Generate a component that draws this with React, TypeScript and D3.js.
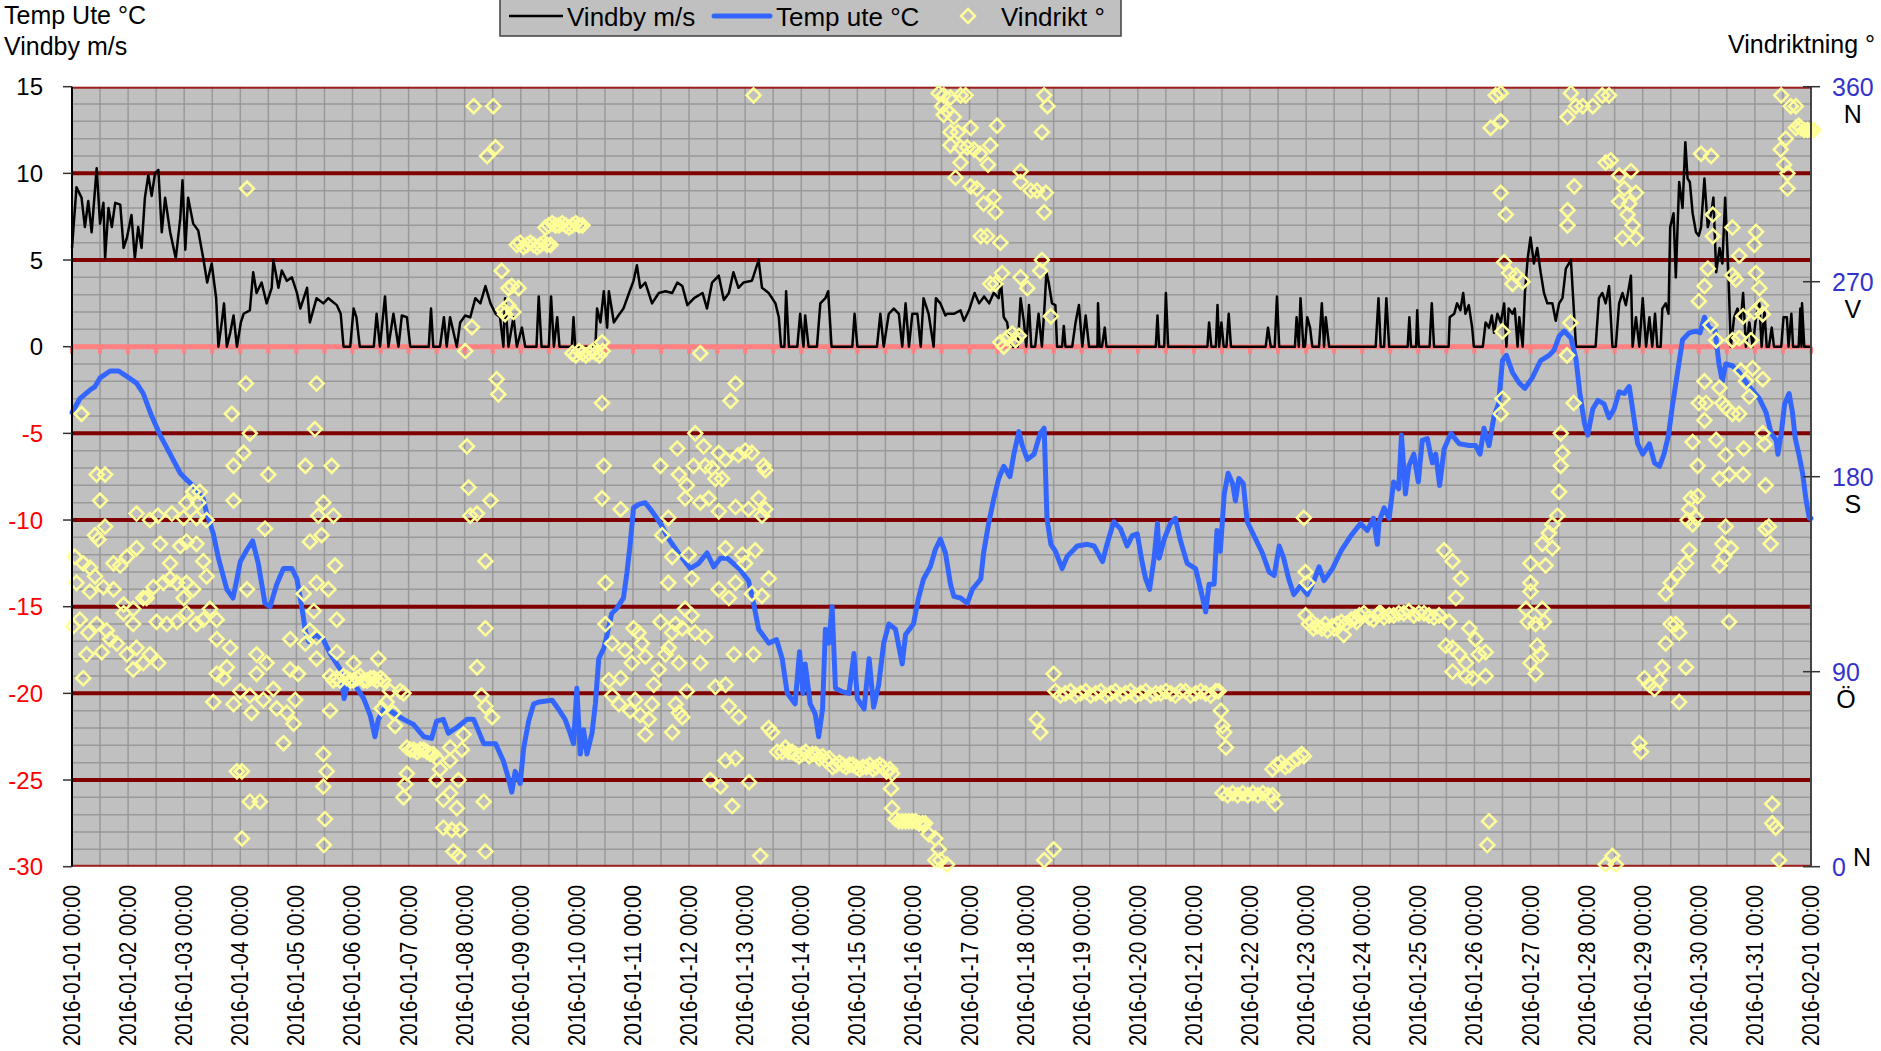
import * as d3 from "d3";
import React from "react";

// temp ute °C, [day since 2016-01-01, value]
const tempSeries: [number, number][] = [
  [0,-3.8],[0.14,-3.0],[0.32,-2.5],[0.41,-2.3],[0.5,-1.8],[0.68,-1.4],[0.83,-1.4],[0.97,-1.7],[1.15,-2.1],[1.27,-2.7],[1.42,-4.0],[1.57,-5.1],[1.75,-6.2],[1.93,-7.3],[2.05,-7.7],[2.22,-8.2],[2.34,-8.8],[2.4,-9.6],[2.52,-10.8],[2.61,-12.2],[2.76,-14.0],[2.87,-14.5],[2.94,-13.4],[3.0,-12.4],[3.12,-11.7],[3.22,-11.2],[3.32,-12.5],[3.44,-14.8],[3.53,-15.0],[3.65,-13.7],[3.77,-12.8],[3.92,-12.8],[4.01,-13.4],[4.1,-15.1],[4.16,-16.4],[4.22,-17.0],[4.33,-16.6],[4.48,-16.9],[4.6,-17.7],[4.78,-18.6],[4.85,-20.3],[4.93,-19.3],[5.08,-19.7],[5.2,-20.3],[5.32,-21.3],[5.4,-22.5],[5.46,-21.5],[5.58,-20.8],[5.76,-21.2],[5.91,-21.5],[6.09,-21.8],[6.27,-22.5],[6.41,-22.6],[6.5,-21.6],[6.62,-21.5],[6.71,-22.3],[6.89,-21.9],[7.04,-21.5],[7.16,-21.5],[7.34,-22.9],[7.55,-22.9],[7.69,-23.9],[7.78,-24.9],[7.84,-25.7],[7.9,-24.5],[7.99,-25.2],[8.05,-23.2],[8.14,-21.6],[8.23,-20.6],[8.32,-20.5],[8.56,-20.4],[8.67,-20.9],[8.79,-21.5],[8.88,-22.3],[8.94,-22.9],[9.0,-19.7],[9.06,-23.5],[9.12,-22.1],[9.18,-23.5],[9.27,-22.3],[9.33,-20.6],[9.39,-18.0],[9.48,-17.4],[9.54,-16.6],[9.62,-15.4],[9.71,-15.1],[9.83,-14.5],[9.89,-13.1],[9.95,-11.4],[10.01,-9.3],[10.1,-9.1],[10.22,-9.0],[10.34,-9.5],[10.49,-10.2],[10.64,-11.1],[10.81,-11.9],[11.02,-12.8],[11.17,-12.5],[11.32,-11.9],[11.44,-12.7],[11.56,-12.2],[11.68,-12.2],[11.89,-12.8],[12.06,-13.5],[12.15,-14.8],[12.24,-16.3],[12.42,-17.1],[12.56,-16.9],[12.66,-18.0],[12.75,-20.0],[12.89,-20.6],[12.97,-17.6],[13.03,-20.0],[13.07,-18.3],[13.16,-20.6],[13.25,-21.2],[13.31,-22.5],[13.38,-20.9],[13.43,-16.3],[13.49,-17.1],[13.55,-15.0],[13.61,-19.7],[13.73,-19.9],[13.85,-20.0],[13.94,-17.7],[14.0,-20.3],[14.12,-20.9],[14.21,-18.0],[14.29,-20.8],[14.38,-19.5],[14.47,-17.1],[14.56,-16.0],[14.68,-16.3],[14.8,-18.3],[14.86,-16.6],[15.0,-16.0],[15.09,-14.5],[15.18,-13.4],[15.3,-12.7],[15.39,-11.7],[15.48,-11.1],[15.57,-11.9],[15.66,-13.7],[15.72,-14.4],[15.84,-14.5],[15.96,-14.8],[16.05,-14.0],[16.2,-13.4],[16.25,-11.9],[16.34,-10.2],[16.43,-8.8],[16.52,-7.6],[16.61,-6.9],[16.72,-7.5],[16.79,-6.2],[16.88,-4.9],[16.94,-5.7],[17.03,-6.5],[17.15,-6.2],[17.26,-5.0],[17.33,-4.7],[17.38,-9.9],[17.45,-11.4],[17.53,-11.8],[17.65,-12.8],[17.74,-12.1],[17.92,-11.5],[18.1,-11.4],[18.22,-11.5],[18.37,-12.4],[18.45,-11.4],[18.57,-10.1],[18.69,-10.5],[18.81,-11.5],[18.9,-10.9],[18.99,-10.8],[19.08,-12.5],[19.14,-13.4],[19.21,-14.0],[19.29,-12.2],[19.35,-10.2],[19.38,-12.2],[19.47,-11.1],[19.58,-10.2],[19.67,-9.9],[19.76,-11.2],[19.88,-12.5],[20.03,-12.8],[20.12,-14.0],[20.21,-15.3],[20.27,-13.7],[20.36,-13.7],[20.41,-10.6],[20.47,-11.8],[20.54,-8.5],[20.61,-7.3],[20.69,-7.9],[20.74,-8.9],[20.8,-7.6],[20.88,-7.9],[20.95,-10.1],[21.1,-11.1],[21.22,-11.9],[21.34,-13.0],[21.43,-13.2],[21.52,-11.5],[21.6,-12.2],[21.69,-13.4],[21.78,-14.3],[21.9,-13.8],[22.02,-14.3],[22.14,-13.5],[22.23,-12.7],[22.32,-13.5],[22.47,-12.8],[22.62,-11.8],[22.8,-10.9],[22.97,-10.2],[23.09,-10.6],[23.2,-9.9],[23.27,-11.4],[23.3,-10.1],[23.39,-9.3],[23.48,-9.9],[23.56,-7.8],[23.65,-8.2],[23.7,-5.1],[23.77,-8.5],[23.83,-6.9],[23.92,-6.2],[24.0,-7.8],[24.07,-5.4],[24.16,-5.3],[24.25,-6.7],[24.31,-6.2],[24.38,-8.0],[24.46,-5.9],[24.58,-5.0],[24.73,-5.6],[24.91,-5.7],[25.02,-5.7],[25.1,-6.2],[25.17,-4.7],[25.26,-5.7],[25.35,-4.0],[25.43,-3.3],[25.5,-0.8],[25.57,-0.5],[25.68,-1.5],[25.8,-2.1],[25.9,-2.4],[26.03,-1.8],[26.18,-0.8],[26.33,-0.5],[26.42,-0.2],[26.51,0.6],[26.6,0.9],[26.72,0.5],[26.81,-0.7],[26.88,-2.7],[26.96,-4.4],[27.02,-5.1],[27.11,-3.6],[27.2,-3.1],[27.31,-3.3],[27.4,-4.1],[27.49,-3.6],[27.58,-2.6],[27.67,-2.7],[27.76,-2.3],[27.82,-3.6],[27.91,-5.6],[28.0,-6.2],[28.12,-5.6],[28.21,-6.7],[28.3,-6.9],[28.38,-6.2],[28.46,-5.1],[28.53,-3.4],[28.62,-1.5],[28.71,0.4],[28.83,0.8],[28.95,0.9],[29.02,0.8],[29.1,1.7],[29.18,1.1],[29.29,0.9],[29.36,-1.0],[29.42,-2.0],[29.48,-1.0],[29.6,-1.1],[29.72,-1.5],[29.9,-2.3],[30.08,-3.0],[30.2,-3.8],[30.29,-5.0],[30.38,-5.4],[30.41,-6.2],[30.47,-5.0],[30.53,-3.3],[30.61,-2.7],[30.67,-3.8],[30.72,-5.3],[30.79,-6.3],[30.85,-7.3],[30.91,-8.8],[30.97,-9.9],[31.0,-9.9]
];

// vindby m/s
const gustSeries: [number, number][] = [
  [0,5.7],[0.08,9.2],[0.17,8.6],[0.23,6.9],[0.29,8.4],[0.35,6.6],[0.44,10.3],[0.5,7.1],[0.56,8.3],[0.59,5.1],[0.65,8.0],[0.71,6.9],[0.77,8.3],[0.86,8.2],[0.92,5.7],[0.98,6.3],[1.06,7.6],[1.12,5.1],[1.18,6.9],[1.24,5.7],[1.3,8.6],[1.36,9.9],[1.42,8.7],[1.48,10.0],[1.54,10.2],[1.6,6.6],[1.66,8.6],[1.75,6.6],[1.85,5.1],[1.93,7.4],[1.97,9.6],[2.02,5.6],[2.07,8.6],[2.16,7.1],[2.25,6.7],[2.34,5.1],[2.41,3.7],[2.49,4.8],[2.57,2.8],[2.61,0],[2.67,1.4],[2.71,2.5],[2.76,0],[2.82,0.8],[2.88,1.8],[2.94,0],[3.01,1.4],[3.06,1.9],[3.17,2.1],[3.23,4.3],[3.29,3.1],[3.38,3.7],[3.47,2.5],[3.56,3.4],[3.59,5.0],[3.68,3.4],[3.74,4.4],[3.83,3.8],[3.92,4.0],[4.01,3.1],[4.07,2.2],[4.19,3.4],[4.24,1.4],[4.36,2.8],[4.48,2.5],[4.57,2.8],[4.72,2.4],[4.79,1.9],[4.84,0],[4.96,0],[5.02,2.2],[5.07,1.7],[5.13,0],[5.38,0],[5.43,1.9],[5.49,0],[5.58,2.9],[5.64,0],[5.73,1.9],[5.82,0],[5.88,1.8],[5.97,1.7],[6.03,0],[6.36,0],[6.4,2.2],[6.44,0],[6.56,0],[6.63,1.7],[6.68,0],[6.74,1.7],[6.86,0],[6.92,1.4],[7.01,1.8],[7.1,1.7],[7.19,2.8],[7.28,2.5],[7.37,3.5],[7.46,2.5],[7.55,1.9],[7.63,1.7],[7.69,0],[7.72,2.8],[7.78,0],[7.87,1.7],[7.93,0],[8.02,1.1],[8.08,0],[8.28,0],[8.32,2.9],[8.37,0],[8.5,0],[8.54,2.9],[8.59,0],[8.65,1.7],[8.69,0],[8.91,0],[8.94,1.7],[8.97,0],[9.33,0],[9.36,2.2],[9.42,1.4],[9.48,3.2],[9.54,1.1],[9.57,3.2],[9.66,1.4],[9.74,1.8],[9.83,2.2],[9.93,3.1],[10.01,3.8],[10.07,4.7],[10.13,3.4],[10.22,3.7],[10.34,2.5],[10.46,3.1],[10.58,3.2],[10.7,3.1],[10.79,3.7],[10.88,3.5],[10.97,2.4],[11.09,2.8],[11.24,3.1],[11.32,2.2],[11.41,3.7],[11.53,4.1],[11.62,2.7],[11.71,3.1],[11.79,4.3],[11.88,3.4],[11.97,3.7],[12.12,3.8],[12.24,5.0],[12.3,3.4],[12.42,3.1],[12.54,2.5],[12.6,1.7],[12.64,0],[12.7,0],[12.73,3.2],[12.78,0],[12.93,0],[12.98,1.9],[13.04,0],[13.07,1.8],[13.13,0],[13.28,0],[13.34,2.5],[13.43,2.8],[13.48,3.2],[13.54,0],[13.91,0],[13.95,1.9],[14.0,0],[14.35,0],[14.41,1.9],[14.47,0],[14.56,1.9],[14.65,2.2],[14.74,1.9],[14.8,0],[14.86,2.5],[14.92,0],[14.98,1.9],[15.07,1.9],[15.13,0],[15.18,2.8],[15.27,1.9],[15.36,0],[15.4,2.8],[15.48,2.5],[15.57,1.8],[15.6,1.9],[15.72,1.9],[15.84,2.1],[15.9,1.5],[15.99,2.1],[16.09,3.1],[16.17,2.5],[16.26,2.9],[16.35,2.5],[16.43,3.1],[16.52,2.8],[16.56,3.8],[16.61,1.7],[16.67,1.4],[16.73,0],[16.86,0],[16.91,2.8],[16.97,1.4],[17.01,0],[17.06,2.4],[17.1,0],[17.17,0],[17.23,1.9],[17.29,0],[17.34,2.5],[17.37,4.3],[17.41,3.7],[17.47,2.5],[17.53,2.4],[17.56,0],[17.65,0],[17.68,1.2],[17.71,0],[17.83,0],[17.89,1.4],[17.95,2.4],[18.01,0],[18.07,1.8],[18.13,0],[18.28,0],[18.29,2.5],[18.32,0],[18.36,0],[18.41,1.1],[18.44,0],[19.32,0],[19.35,1.8],[19.38,0],[19.47,0],[19.5,3.1],[19.54,0],[20.24,0],[20.27,1.4],[20.31,0],[20.39,0],[20.42,2.4],[20.45,0],[20.49,1.4],[20.53,0],[20.58,0],[20.62,1.9],[20.66,0],[21.28,0],[21.32,1.1],[21.37,0],[21.44,0],[21.48,2.9],[21.52,0],[21.8,0],[21.83,1.7],[21.87,0],[21.9,2.8],[21.95,0],[21.98,0],[22.02,1.7],[22.07,1.1],[22.11,0],[22.23,0],[22.28,2.5],[22.32,0],[22.35,1.7],[22.41,0],[23.24,0],[23.29,2.8],[23.33,0],[23.39,0],[23.43,2.8],[23.48,0],[23.81,0],[23.84,1.7],[23.87,0],[23.96,0],[23.98,2.1],[24.01,0],[24.2,0],[24.24,2.5],[24.28,0],[24.54,0],[24.56,1.7],[24.64,1.9],[24.69,2.5],[24.75,2.1],[24.8,3.1],[24.84,1.9],[24.9,2.4],[24.96,1.1],[24.99,0],[25.15,0],[25.2,1.4],[25.26,1.1],[25.31,1.8],[25.35,0.8],[25.41,1.9],[25.47,1.4],[25.53,2.5],[25.57,0],[25.61,2.2],[25.68,1.9],[25.72,2.2],[25.77,0],[25.8,1.7],[25.86,0],[25.9,3.1],[25.95,5.1],[26.0,6.3],[26.06,4.8],[26.12,5.7],[26.18,4.3],[26.24,3.1],[26.3,2.5],[26.39,2.5],[26.45,1.5],[26.51,2.5],[26.57,2.8],[26.63,4.5],[26.72,5.0],[26.78,1.7],[26.81,0],[27.16,0],[27.22,2.8],[27.28,3.1],[27.34,2.5],[27.4,3.5],[27.46,0],[27.52,0],[27.58,2.5],[27.64,3.1],[27.7,2.4],[27.79,4.1],[27.82,0],[27.88,1.7],[27.94,0],[28.0,2.8],[28.06,0],[28.12,1.7],[28.17,0],[28.22,1.9],[28.26,0],[28.32,0],[28.35,2.2],[28.41,2.5],[28.46,1.9],[28.49,6.9],[28.55,7.7],[28.59,4.0],[28.65,9.5],[28.71,8.0],[28.76,11.8],[28.8,9.7],[28.84,9.5],[28.89,7.7],[28.95,6.6],[29.0,6.4],[29.04,6.9],[29.1,9.7],[29.16,6.9],[29.22,7.7],[29.26,8.6],[29.31,4.3],[29.37,5.7],[29.42,4.8],[29.47,8.6],[29.53,4.0],[29.57,0],[29.63,1.7],[29.69,2.2],[29.75,1.5],[29.79,3.1],[29.84,0],[29.9,1.4],[29.96,0],[30.02,1.7],[30.08,2.5],[30.12,0],[30.17,2.1],[30.21,0],[30.25,0],[30.3,1.1],[30.34,0],[30.47,0],[30.51,1.7],[30.57,1.7],[30.6,0],[30.65,1.9],[30.68,0],[30.78,0],[30.81,2.2],[30.83,0],[30.84,2.5],[30.88,0],[31.0,0]
];

// vindriktning °, [day, degrees]
const dirPoints: [number, number][] = [
  [0.17,209],[0.44,181],[0.59,181],[0.5,169],[0.59,157],[0.41,153],[0.47,151],[0.05,143],[0.2,140],[0.32,138],[0.41,134],[0.08,131],[0.32,127],[0.56,129],[0.14,114],[0.02,111],[0.29,108],[0.44,112],[0.62,109],[0.68,105],[0.53,99],[0.26,98],[0.2,87],
  [0.74,140],[0.86,139],[0.98,143],[1.15,147],[1.15,163],[1.39,160],[1.53,162],[1.78,163],[1.99,161],[2.22,161],[2.4,160],
  [0.74,128],[0.92,121],[1.09,119],[1.27,124],[1.45,129],[1.63,131],[1.75,133],[1.87,131],[2.04,131],[1.99,124],[2.16,128],
  [0.92,117],[1.09,112],[1.33,124],[1.51,113],[1.69,112],[1.87,113],[2.04,117],[2.22,112],[2.34,114],
  [0.8,103],[0.98,98],[1.15,101],[1.27,94],[1.39,98],[1.54,94],[1.09,91],
  [1.57,149],[1.75,140],[1.93,148],[2.04,150],[2.22,149],[2.34,141],[2.4,134],[2.46,119],[2.58,114],[2.58,105],
  [2.04,168],[2.16,173],[2.28,173],[2.25,168],
  [2.58,89],[2.7,87],[2.52,76],[2.76,92],[2.82,101],[2.88,75],[3.0,81],[2.94,44],[3.03,44],[3.17,30],[3.35,30],[3.03,13],
  [3.12,313],[3.1,223],[2.85,209],[3.17,200],[3.06,191],[2.88,185],[2.88,169],[3.5,181],[3.44,156],[3.12,128],[3.29,98],[3.47,94],[3.29,89],[3.17,79],[3.59,82],[3.2,71],[3.41,77],[3.65,73],[3.77,57],[3.83,71],[3.95,66],[3.89,91],[3.89,105],[4.03,89],[3.98,77],
  [4.36,223],[4.33,202],[4.16,185],[4.63,185],[4.48,168],[4.39,162],[4.66,162],[4.24,150],[4.45,153],[4.69,139],[4.36,131],[4.57,128],[4.13,126],[4.31,118],[4.72,114],[4.24,109],[4.36,106],[4.16,103],[4.36,96],[4.72,99],[4.6,72],[4.48,52],[4.54,44],[4.48,37],[4.51,22],[4.49,10],
  [4.6,88],[4.72,87],[4.84,88],[4.96,86],[5.08,87],[5.2,86],[5.32,87],[5.43,86],[5.55,86],[4.66,86],[4.78,86],[4.9,87],[5.02,86],[5.14,88],[5.26,86],[5.38,87],[5.5,87],[5.02,94],[5.46,96],[5.52,73],[5.61,76],[5.67,81],[5.85,81],[5.91,80],[5.73,71],[5.76,65],
  [5.97,55],[6.09,54],[6.21,54],[6.33,53],[6.44,52],[6.03,54],[6.15,53],[6.27,54],[6.39,52],[6.5,50],[6.56,45],[6.74,55],[6.74,49],[6.98,61],[6.95,54],[6.89,40],[5.97,43],[5.94,38],[5.91,32],[6.5,40],[6.62,31],[6.74,34],[6.86,27],[6.62,18],[6.77,17],[6.92,17],[6.8,7],[6.89,5],[7.37,7],[7.34,30],[7.49,69],[7.3,79],[7.37,74],[7.22,92],[7.37,110],[7.37,141],[7.46,169],[7.1,162],[7.22,163],[7.07,175],[7.04,194],[7.57,225],[7.6,218],[7.01,238],[7.13,249],[7.66,275],[7.69,257],[7.72,255],[7.16,351],[7.51,351],[7.55,332],[7.4,328],[7.78,267],
  [7.84,268],[7.96,267],[7.78,259],[7.87,256],
  [7.93,287],[7.99,288],[8.05,286],[8.11,287],[8.17,288],[8.23,287],[8.29,286],[8.35,287],[8.41,288],[8.47,287],[8.53,287],
  [8.44,295],[8.5,296],[8.56,297],[8.62,296],[8.68,296],[8.74,297],[8.8,296],[8.86,295],[8.92,296],[8.98,297],[9.04,296],[9.1,296],
  [8.92,237],[8.98,236],[9.04,238],[9.1,237],[9.16,236],[9.22,237],[9.28,238],[9.34,237],[9.4,236],[9.46,238],
  [9.45,242],[9.45,214],[9.48,185],[9.45,170],[9.78,165],[9.51,131],[9.51,112],[9.63,103],[9.57,86],[9.63,79],[9.75,75],[9.78,87],[9.86,100],[9.98,94],[10.01,110],[10.1,108],[10.16,103],[10.22,97],[9.95,72],[10.04,77],[10.13,70],[10.22,61],[10.28,68],[10.34,75],[10.37,84],[10.46,91],[10.49,113],[10.58,98],[10.64,101],[10.7,62],[10.76,75],[10.82,71],[10.88,69],[10.96,81],[10.7,108],[10.76,112],[10.82,94],[10.93,119],[11.05,116],[11.11,108],[11.2,94],[11.29,106],[10.88,110],
  [10.49,185],[10.63,161],[10.52,153],[10.7,143],[10.63,131],[10.82,181],[10.79,193],[10.96,176],[10.93,170],[10.99,144],[11.05,133],[11.11,200],[11.08,185],[11.2,168],[11.26,194],[11.29,185],[11.35,170],[11.41,184],[11.47,179],[11.53,191],[11.59,179],[11.53,164],[11.65,188],[11.88,190],[12.0,192],[12.12,191],[12.33,185],[12.36,183],[12.24,170],[12.3,162],[12.36,165],[12.06,165],[11.83,166],[11.83,131],[11.65,147],[11.95,144],[12.18,146],[12.0,140],[12.12,126],[12.3,125],[12.42,133],[11.53,128],[11.71,124],[11.47,83],[11.65,84],[11.71,74],[11.89,69],[12.15,98],[11.8,98],[11.65,49],[11.83,50],[11.38,40],[11.56,37],[12.07,39],[11.77,28],[12.27,5],[11.83,223],[11.74,215],[11.2,237],[12.15,356],
  [12.42,64],[12.48,62],[12.57,53],[12.66,53],[12.78,53],[12.9,52],[13.02,52],[13.14,51],[13.26,52],[13.38,51],[13.5,50],[13.62,47],[13.74,47],[13.86,47],[13.98,46],[14.1,46],[14.22,47],[14.34,46],[14.46,46],[14.58,45],[12.72,55],[12.84,53],[12.96,51],[13.08,53],[13.2,52],[13.32,50],[13.44,49],[13.56,46],[13.68,48],[13.8,46],[13.92,47],[14.04,45],[14.16,46],[14.28,45],[14.4,47],[14.52,44],[14.62,43],[14.6,36],[14.62,27],
  [14.68,22],[14.74,21],[14.8,21],[14.86,21],[14.92,21],[14.98,21],[15.04,21],[15.1,20],[15.16,20],[15.21,20],[15.27,15],[15.39,13],[15.45,8],[15.39,3],
  [15.45,357],[15.51,351],[15.54,347],
  [15.54,356],[15.66,355],[15.84,356],[15.93,356],[15.6,349],[15.72,346],[15.66,339],[15.79,339],[16.02,341],[15.66,333],[15.84,332],[15.96,332],[16.08,331],[16.19,329],[16.37,333],[16.49,342],[15.84,325],[16.33,324],[15.75,318],[16.02,314],[16.13,313],[16.25,306],[16.43,309],[16.46,302],[16.2,291],[16.31,291],[16.55,288],[16.46,269],[16.37,269],[16.58,274],[16.91,321],[16.91,316],[17.09,312],[17.2,312],[17.36,311],[17.33,302],[17.29,339],[17.33,356],[17.39,351],[17.29,280],[17.26,275],[16.91,272],[17.03,267],[17.45,254],
  [16.55,242],[16.67,244],[16.76,246],[16.88,245],[16.61,240],[16.82,243],
  [17.2,68],[17.26,62],[17.5,89],[17.5,8],[17.33,3],[15.48,3],[15.6,1],
  [17.53,81],[17.71,80],[17.89,79],[18.07,81],[18.25,80],[18.43,79],[18.6,81],[18.78,80],[18.96,79],[19.14,81],[19.32,80],[19.5,81],[19.67,79],[19.85,81],[20.03,80],[20.21,80],[20.39,81],[17.62,79],[17.8,81],[17.98,80],[18.16,79],[18.34,81],[18.52,80],[18.69,79],[18.87,81],[19.05,80],[19.23,79],[19.41,80],[19.59,80],[19.76,81],[19.94,79],[20.12,81],[20.3,79],[20.44,81],
  [20.48,72],[20.51,65],[20.54,62],[20.57,55],
  [20.51,34],[20.6,33],[20.69,34],[20.78,33],[20.87,34],[20.96,33],[21.05,34],[21.14,33],[21.23,34],[21.32,33],[21.4,33],[21.45,29],
  [21.4,45],[21.48,47],[21.55,48],[21.63,46],[21.7,47],[21.78,49],[21.85,50],[21.92,52],[21.96,51],
  [21.96,161],[21.99,136],[22.02,131],
  [21.99,116],[22.05,112],[22.13,110],[22.2,111],[22.28,110],[22.38,109],[22.46,111],[22.55,112],[22.63,113],[22.71,112],[22.8,114],[22.88,115],[22.95,116],[23.03,117],[23.12,115],[23.2,114],[23.27,116],[23.33,117],[22.67,107],[22.1,113],[22.34,112],[22.5,110],[22.9,113],
  [23.3,117],[23.48,116],[23.65,117],[23.83,118],[24.01,117],[24.19,116],[24.37,116],[23.39,115],[23.56,116],[23.74,117],[23.92,116],[24.1,117],[24.28,115],
  [24.46,146],[24.61,141],[24.76,133],[24.67,124],[24.55,113],[24.49,102],[24.61,101],[24.73,98],[24.85,94],[24.61,90],[24.91,110],[25.02,105],[25.08,98],[24.85,88],[24.97,87],[25.2,88],[25.2,99],[25.26,21],[25.23,10],
  [25.47,311],[25.56,301],[25.47,344],[25.29,341],[25.38,356],[25.47,357],
  [25.53,279],[25.62,274],[25.74,273],[25.86,270],[25.68,269],[25.5,247],[25.5,216],[25.47,209],
  [26.54,200],[26.57,191],[26.54,185],[26.51,173],[26.48,162],[26.39,158],[26.33,154],[26.21,149],[26.39,147],[26.27,139],[26.0,140],[26.0,131],[26.0,127],[25.92,119],[25.95,113],[26.09,112],[26.21,119],[26.24,113],[26.12,102],[26.18,98],[26.0,94],[26.09,89],
  [26.72,357],[27.11,351],[26.93,351],[26.81,351],[27.28,356],[27.4,356],[26.66,346],[26.66,303],[26.66,296],[26.78,314],[26.71,251],[26.65,236],[26.77,214],
  [27.34,325],[27.43,326],[27.58,319],[27.79,321],[27.67,313],[27.58,307],[27.76,306],[27.88,311],[27.73,301],[27.82,296],[27.88,290],[27.64,290],
  [27.34,1],[27.46,5],[27.52,1],
  [27.94,57],[27.97,53],[28.03,87],[28.12,84],[28.21,82],[28.3,86],[28.35,92],[28.41,103],[28.5,112],[28.59,112],[28.5,131],[28.62,135],[28.65,108],[28.77,92],[28.65,76],[28.41,126],[28.77,140],[28.83,146],[28.8,160],[28.89,158],[28.95,161],[28.86,170],[28.98,171],[28.89,196],[28.98,185],[28.83,165],[29.0,214],[29.13,214],[29.1,206],[29.1,224],[29.0,261],[29.1,268],[29.16,276],[29.25,301],[29.25,291],[29.04,329],[29.22,328],
  [29.21,250],[29.31,243],[29.37,221],[29.42,214],[29.48,212],[29.6,209],[29.72,209],[29.48,190],[29.31,197],[29.37,179],[29.54,181],[29.79,181],[29.48,157],[29.42,149],[29.45,143],[29.37,139],[29.57,147],[29.54,113],
  [29.6,295],[29.72,282],[29.6,273],[29.66,271],[29.79,254],[29.72,244],[29.6,243],[29.93,243],[29.75,229],[29.84,224],[29.96,230],[29.9,217],[30.14,225],[30.02,293],[29.99,287],[30.02,274],[30.08,267],[29.99,256],[30.11,259],[30.14,255],
  [29.8,193],[30.14,200],[30.17,195],[30.19,176],[30.19,156],[30.25,157],[30.28,149],
  [30.31,29],[30.31,20],[30.37,18],[30.43,3],
  [30.47,356],[30.64,351],[30.73,351],[30.55,336],[30.46,331],[30.52,324],[30.58,320],[30.58,313],
  [30.73,341],[30.82,341],[30.94,340],[31.0,340],[30.78,342],[30.88,340],[31.05,340]
];

const leftTicks = [15, 10, 5, 0, -5, -10, -15, -20, -25, -30];
const rightTicks = [360, 270, 180, 90, 0];
const compass = ["N", "V", "S", "Ö", "N"];

const W = 1881;
const H = 1051;
const FONT = "Liberation Sans, Arial, sans-serif";
const plot = { left: 72, right: 1811, top: 86.7, bottom: 866.7 };

const t0 = Date.UTC(2016, 0, 1);
const toDate = (d: number) => new Date(t0 + d * 864e5);

export default function App() {
  const x = d3.scaleUtc().domain([toDate(0), toDate(31)]).range([plot.left, plot.right]);
  const y = d3.scaleLinear().domain([-30, 15]).range([plot.bottom, plot.top]);
  const yDir = d3.scaleLinear().domain([0, 360]).range([plot.bottom, plot.top]);

  const line = d3
    .line<[number, number]>()
    .x((d) => x(toDate(d[0])))
    .y((d) => y(d[1]));

  const halfDays = x.ticks(d3.utcHour.every(12)!);
  const days = x.ticks(d3.utcDay.every(1)!);
  const fmt = d3.utcFormat("%Y-%m-%d %H:%M");
  const minor = d3.range(-29, 15).filter((v) => v % 5 !== 0);
  const major = [-25, -20, -15, -10, -5, 5, 10];
  const diamond = "M0,-7L7,0L0,7L-7,0Z";

  return (
    <svg width={W} height={H} style={{ position: "absolute", left: 0, top: 0, fontFamily: FONT }}>
      <rect x={0} y={0} width={W} height={H} fill="#fff" />
      <rect x={plot.left} y={plot.top} width={plot.right - plot.left} height={plot.bottom - plot.top} fill="#c0c0c0" />

      {/* grid */}
      {minor.map((v) => (
        <line key={"h" + v} x1={plot.left} x2={plot.right} y1={y(v)} y2={y(v)} stroke="#999" strokeWidth={1.5} />
      ))}
      {halfDays.map((d, i) => (
        <line key={"v" + i} x1={x(d)} x2={x(d)} y1={plot.top} y2={plot.bottom} stroke="#999" strokeWidth={1.5} />
      ))}
      {major.map((v) => (
        <line key={"m" + v} x1={plot.left} x2={plot.right} y1={y(v)} y2={y(v)} stroke="#800000" strokeWidth={4} />
      ))}
      <line x1={plot.left} x2={plot.right} y1={y(15) + 1} y2={y(15) + 1} stroke="#a02020" strokeWidth={2} />
      <line x1={plot.left} x2={plot.right} y1={y(-30) - 1} y2={y(-30) - 1} stroke="#a02020" strokeWidth={2} />

      {/* zero axis */}
      <line x1={plot.left} x2={plot.right} y1={y(0)} y2={y(0)} stroke="#ff8080" strokeWidth={5} />
      {halfDays.map((d, i) => (
        <rect key={"zt" + i} x={x(d) - 2} y={y(0)} width={4} height={7} fill="#ff8080" />
      ))}

      {/* series */}
      <path d={line(gustSeries) ?? ""} fill="none" stroke="#000" strokeWidth={2.5} strokeLinejoin="round" />
      <path d={line(tempSeries) ?? ""} fill="none" stroke="#3366ff" strokeWidth={5} strokeLinejoin="round" strokeLinecap="round" />
      {dirPoints.map((p, i) => (
        <path
          key={"p" + i}
          d={diamond}
          transform={`translate(${x(toDate(p[0]))},${yDir(p[1])})`}
          fill="none"
          stroke="#ffff99"
          strokeWidth={2.5}
        />
      ))}

      {/* axes */}
      <line x1={plot.left} x2={plot.left} y1={plot.top} y2={plot.bottom} stroke="#000" strokeWidth={2} />
      <line x1={plot.right} x2={plot.right} y1={plot.top} y2={plot.bottom} stroke="#444" strokeWidth={2} />
      {leftTicks.map((v) => (
        <g key={"lt" + v}>
          <line x1={plot.left - 9} x2={plot.left} y1={y(v)} y2={y(v)} stroke="#333" strokeWidth={1.5} />
          <text x={43} y={y(v)} dominantBaseline="central" textAnchor="end" fontSize={24} fill={v < 0 ? "#ff0000" : "#000"}>
            {v}
          </text>
        </g>
      ))}
      {rightTicks.map((v, i) => {
        const w = String(v).length * 0.556 * 25;
        return (
          <g key={"rt" + v}>
            <line x1={plot.right - 8} x2={plot.right + 9} y1={yDir(v)} y2={yDir(v)} stroke="#333" strokeWidth={1.5} />
            <text x={1832} y={yDir(v)} dominantBaseline="central" fontSize={25} fill="#3333cc">
              {v}
            </text>
            {v === 0 ? (
              <text x={1853} y={yDir(v) - 10} dominantBaseline="central" fontSize={25} fill="#000">
                {compass[i]}
              </text>
            ) : (
              <text x={1832 + w / 2} y={yDir(v) + 27} dominantBaseline="central" textAnchor="middle" fontSize={25} fill="#000">
                {compass[i]}
              </text>
            )}
          </g>
        );
      })}
      {days.map((d, i) => (
        <text
          key={"xl" + i}
          transform={`translate(${x(d)},885) rotate(-90)`}
          textAnchor="end"
          dominantBaseline="central"
          fontSize={23}
          textLength={161}
          lengthAdjust="spacingAndGlyphs"
        >
          {fmt(d)}
        </text>
      ))}

      {/* titles */}
      <text x={4} y={24} fontSize={25}>Temp Ute °C</text>
      <text x={4} y={55} fontSize={25}>Vindby m/s</text>
      <text x={1728} y={53} fontSize={25}>Vindriktning °</text>

      {/* legend */}
      <rect x={500} y={-2} width={621} height={38} fill="#c0c0c0" stroke="#404040" strokeWidth={1.5} />
      <line x1={509} x2={563} y1={16} y2={16} stroke="#000" strokeWidth={2.5} />
      <text x={567} y={26} fontSize={26}>Vindby m/s</text>
      <line x1={714} x2={770} y1={16} y2={16} stroke="#3366ff" strokeWidth={5} strokeLinecap="round" />
      <text x={776} y={26} fontSize={26}>Temp ute °C</text>
      <path d={diamond} transform="translate(968,16)" fill="none" stroke="#ffff99" strokeWidth={2.5} />
      <text x={1001} y={26} fontSize={26}>Vindrikt °</text>
    </svg>
  );
}
